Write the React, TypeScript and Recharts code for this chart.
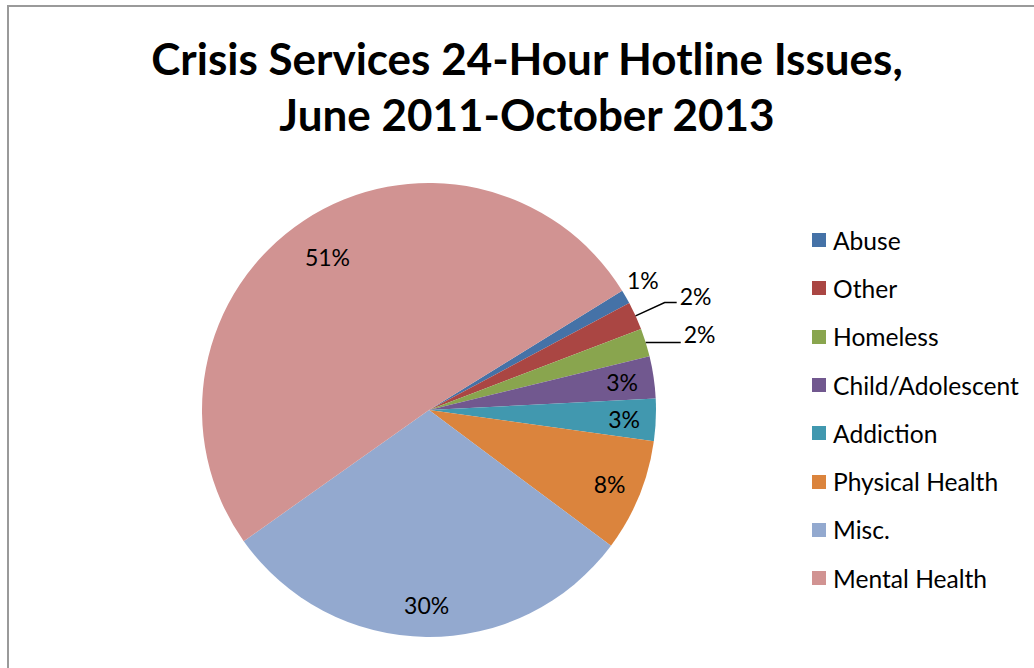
import { PieChart, Pie, Cell } from 'recharts';

const categories = [
  'Abuse',
  'Other',
  'Homeless',
  'Child/Adolescent',
  'Addiction',
  'Physical Health',
  'Misc.',
  'Mental Health',
];
const shares = [1, 2, 2, 3, 3, 8, 30, 51];
const colors = [
  '#4572A7',
  '#AA4643',
  '#89A54E',
  '#71588F',
  '#4198AF',
  '#DB843D',
  '#93A9CF',
  '#D19392',
];

const data = categories.map((name, i) => ({ name, value: shares[i] }));

const FONT = 'Lato, Calibri, "Open Sans", sans-serif';
const RAD = Math.PI / 180;

// Excel-style "best fit" labels: big slices inside, thin ones outside with leaders
const renderLabel = (props: any) => {
  const { cx, cy, midAngle, outerRadius, percent, index } = props;
  const text = `${Math.round(percent * 100)}%`;
  const cos = Math.cos(-midAngle * RAD);
  const sin = Math.sin(-midAngle * RAD);
  const ex = cx + outerRadius * cos;
  const ey = cy + outerRadius * sin;

  if (percent >= 0.025) {
    const r = outerRadius * (percent > 0.5 ? 0.81 : 0.86);
    return (
      <text x={cx + r * cos} y={cy + r * sin} textAnchor="middle" dominantBaseline="central"
        fontFamily={FONT} fontSize={23} fill="#000">
        {text}
      </text>
    );
  }
  if (index === 0) {
    const r = outerRadius + 22;
    return (
      <text x={cx + r * cos - 2} y={cy + r * sin - 6} textAnchor="middle" dominantBaseline="central"
        fontFamily={FONT} fontSize={23} fill="#000">
        {text}
      </text>
    );
  }
  if (index === 1) {
    const mx = cx + (outerRadius + 32) * cos;
    const my = cy + (outerRadius + 32) * sin;
    return (
      <g>
        <polyline points={`${ex},${ey} ${mx},${my} ${mx + 12},${my}`} fill="none" stroke="#000" strokeWidth={1.5} />
        <text x={mx + 15} y={my - 7} textAnchor="start" dominantBaseline="central"
          fontFamily={FONT} fontSize={23} fill="#000">
          {text}
        </text>
      </g>
    );
  }
  return (
    <g>
      <line x1={ex} y1={ey} x2={ex + 35} y2={ey} stroke="#000" strokeWidth={1.5} />
      <text x={ex + 38} y={ey - 8} textAnchor="start" dominantBaseline="central"
        fontFamily={FONT} fontSize={23} fill="#000">
        {text}
      </text>
    </g>
  );
};

export default function App() {
  return (
    <div style={{ position: 'fixed', left: 0, top: 0, width: 1034, height: 668, background: '#fff', overflow: 'hidden' }}>
      <div style={{ position: 'absolute', left: 7, top: 5, width: 1100, height: 760, border: '2px solid #9a9a9a', boxSizing: 'border-box' }} />
      <div style={{ position: 'absolute', left: 0, top: 30, width: 1054, textAlign: 'center', fontFamily: FONT, fontWeight: 700, fontSize: 44, lineHeight: '56px', color: '#000' }}>
        Crisis Services 24-Hour Hotline Issues,<br />June 2011-October 2013
      </div>
      <div style={{ position: 'absolute', left: 0, top: 0 }}>
        <PieChart width={1034} height={668} margin={{ top: 0, right: 0, bottom: 0, left: 0 }}>
          <Pie
            data={data}
            dataKey="value"
            nameKey="name"
            cx={429}
            cy={410}
            outerRadius={227}
            startAngle={31.7}
            endAngle={-328.3}
            stroke="none"
            label={renderLabel}
            labelLine={false}
            isAnimationActive={false}
          >
            {data.map((d, i) => (
              <Cell key={d.name} fill={colors[i]} />
            ))}
          </Pie>
        </PieChart>
      </div>
      <div style={{ position: 'absolute', left: 812, top: 216, fontFamily: FONT, fontSize: 24.6, color: '#000' }}>
        {categories.map((name, i) => (
          <div key={name} style={{ display: 'flex', alignItems: 'center', height: 48.3 }}>
            <span style={{ width: 14, height: 14, background: colors[i], marginRight: 7, flexShrink: 0 }} />
            <span style={{ whiteSpace: 'nowrap' }}>{name}</span>
          </div>
        ))}
      </div>
    </div>
  );
}
